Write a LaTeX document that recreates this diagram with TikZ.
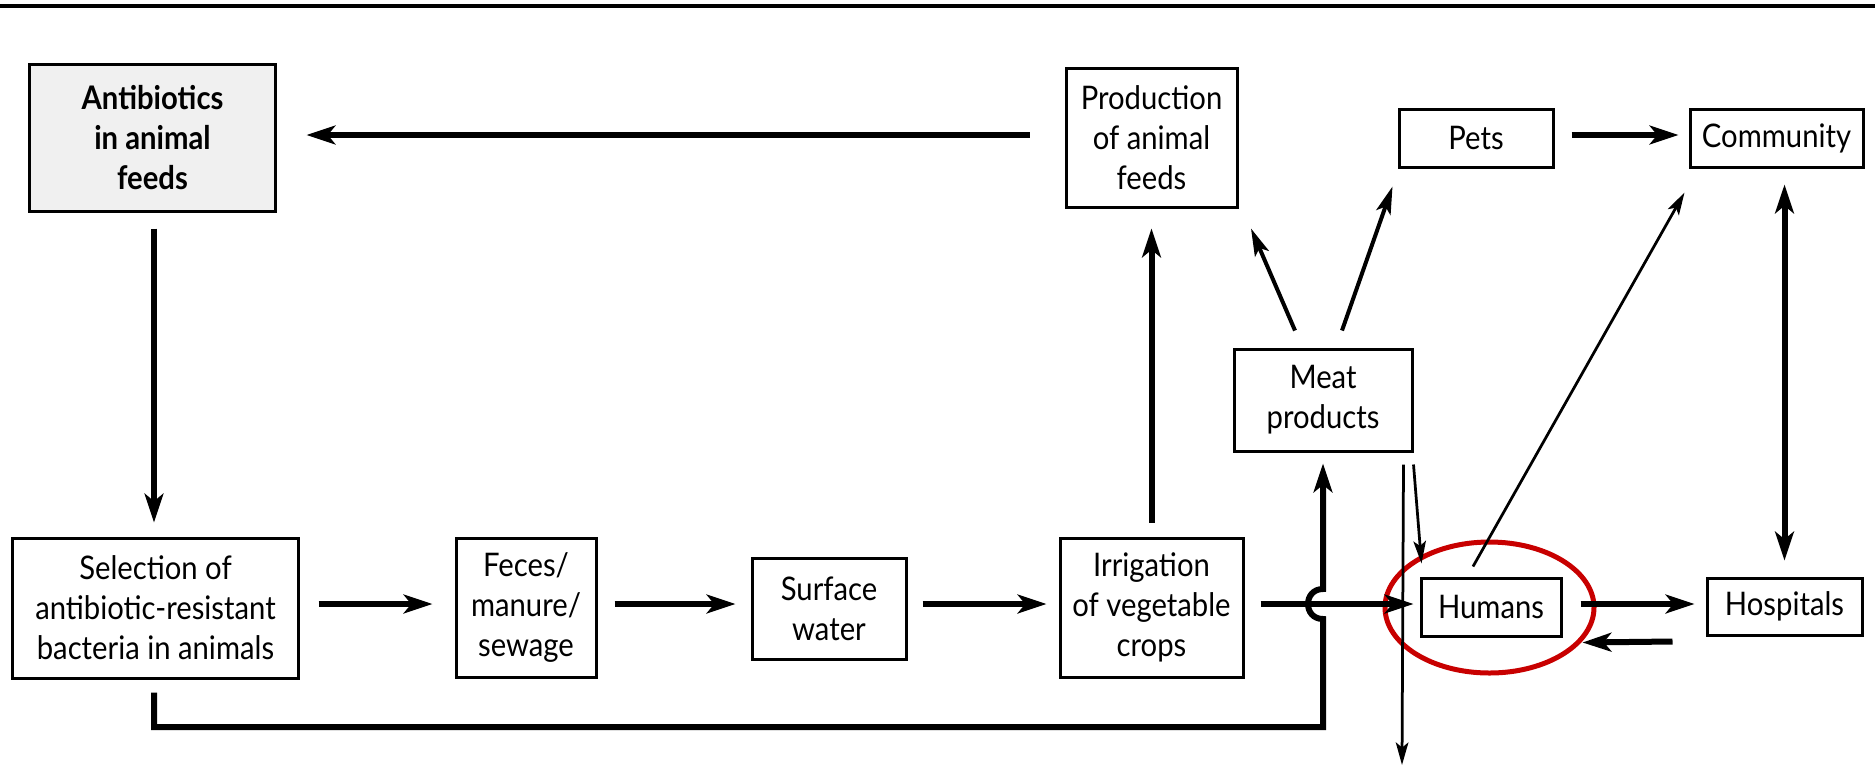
\documentclass[tikz,border=0pt]{standalone}
\usepackage{fontspec}
\setmainfont{Lato}[FakeStretch=0.9]
\usetikzlibrary{arrows.meta,calc}
\tikzset{bighead/.tip={Stealth[length=11.5pt,width=7.5pt,inset=3pt]}}
\begin{document}
\begin{tikzpicture}[x=0.4pt,y=-0.4pt,
  box/.style={draw,line width=1.2pt,align=center,inner sep=0pt,font=\fontsize{13}{16}\selectfont},
  tip/.style={-bighead},
  thickarrow/.style={line width=2.4pt,tip},
  midarrow/.style={line width=1.6pt,-{Stealth[length=11pt,width=6pt,inset=2.5pt]}},
  thinarrow/.style={line width=1.1pt,-{Stealth[length=9pt,width=5pt,inset=2pt]}},
]
\useasboundingbox (0,0) rectangle (1875,783);
\draw[line width=1.4pt] (0,6) -- (1875,6);

% nodes
\node[box,fill=black!6,font=\fontsize{13}{16}\selectfont\bfseries,minimum width=98pt,minimum height=58.8pt] (anti) at (152.5,137.5) {Antibiotics\\in animal\\feeds};
\node[box,minimum width=68.4pt,minimum height=55.6pt] (prod) at (1151.5,137.5) {Production\\of animal\\feeds};
\node[box,minimum width=61.6pt,minimum height=23.2pt] (pets) at (1476,138) {Pets};
\node[box,minimum width=69.2pt,minimum height=23.2pt] (comm) at (1776.5,138) {Community};
\node[box,minimum width=71.2pt,minimum height=40.8pt] (meat) at (1323,400) {Meat\\products};
\node[box,minimum width=114pt,minimum height=56pt] (sel) at (155.5,608) {Selection of\\antibiotic-resistant\\bacteria in animals};
\node[box,minimum width=56pt,minimum height=55.6pt] (feces) at (526,607.5) {Feces/\\manure/\\sewage};
\node[box,minimum width=61.6pt,minimum height=40.4pt] (surf) at (829,608.5) {Surface\\water};
\node[box,minimum width=73.2pt,minimum height=55.6pt] (irr) at (1151.5,607.5) {Irrigation\\of vegetable\\crops};
\node[box,minimum width=56pt,minimum height=23.2pt] (hum) at (1491,607) {Humans};
\node[box,minimum width=62pt,minimum height=22.8pt] (hosp) at (1784.5,606.5) {Hospitals};

% helper coordinates
\coordinate (rowy) at (0,604);
\coordinate (topy) at (0,135);
\coordinate (leftx) at (154,0);
\coordinate (lowcorner) at (1323,727);
\coordinate (hopbot) at (1323,619);
\coordinate (hoptop) at (1323,589);
\coordinate (out) at (1402,765);

% red highlight
\draw[line width=2pt,color={rgb,255:red,200;green,0;blue,0}] (1489.5,607.5) ellipse [x radius=41.8pt, y radius=26.2pt];

% top row
\draw[thickarrow,shorten <=14pt,shorten >=12pt] (prod.west |- topy) -- (anti.east |- topy);
\draw[thickarrow,shorten <=6.8pt,shorten >=4pt] (pets.east |- topy) -- (comm.west |- topy);

% verticals
\draw[thickarrow,shorten <=6.4pt,shorten >=5.6pt] (leftx |- anti.south) -- (leftx |- sel.north);
\draw[thickarrow,shorten <=5.6pt,shorten >=8pt] (irr.north) -- (prod.south);
\draw[line width=2.4pt,bighead-bighead,shorten <=6.4pt,shorten >=6.4pt] (hosp.north |- comm.south) -- (hosp.north);

% main row
\draw[thickarrow,shorten <=7.6pt,shorten >=8.8pt] (sel.east |- rowy) -- (feces.west |- rowy);
\draw[thickarrow,shorten <=6.8pt,shorten >=6pt] (feces.east |- rowy) -- (surf.west |- rowy);
\draw[thickarrow,shorten <=6pt,shorten >=4.8pt] (surf.east |- rowy) -- (irr.west |- rowy);
\draw[thickarrow,shorten <=6.4pt,shorten >=2.4pt] (irr.east |- rowy) -- (hum.west |- rowy);
\draw[thickarrow,shorten <=7.2pt,shorten >=4.4pt] (hum.east |- rowy) -- (hosp.west |- rowy);
\draw[thickarrow] ($(hosp.south west)+(-33,5)$) -- ($(hum.south east)+(20,5)$);

% meat products arrows
\draw[midarrow] ($(meat.north)+(-28,-17)$) -- ($(prod.south)+(99.5,20)$);
\draw[midarrow] ($(meat.north)+(19,-17)$) -- ($(pets.south west)+(-5,18)$);
\draw[thinarrow] ($(meat.south east)+(0,12)$) -- ($(hum.north west)+(2,-13)$);
\draw[thinarrow] ($(meat.south east)+(-10,12)$) -- (out);
\draw[thinarrow] ($(hum.north)+(-18,-10)$) -- ($(comm.south west)+(-4,24)$);

% bottom loop with hop
\draw[line width=2.4pt,tip,shorten >=4.4pt] ($(sel.south)+(-1.5,13)$) |- (lowcorner) -- (hopbot)
  .. controls +(-20,0) and +(-20,0) .. (hoptop) -- (meat.south);
\end{tikzpicture}
\end{document}
